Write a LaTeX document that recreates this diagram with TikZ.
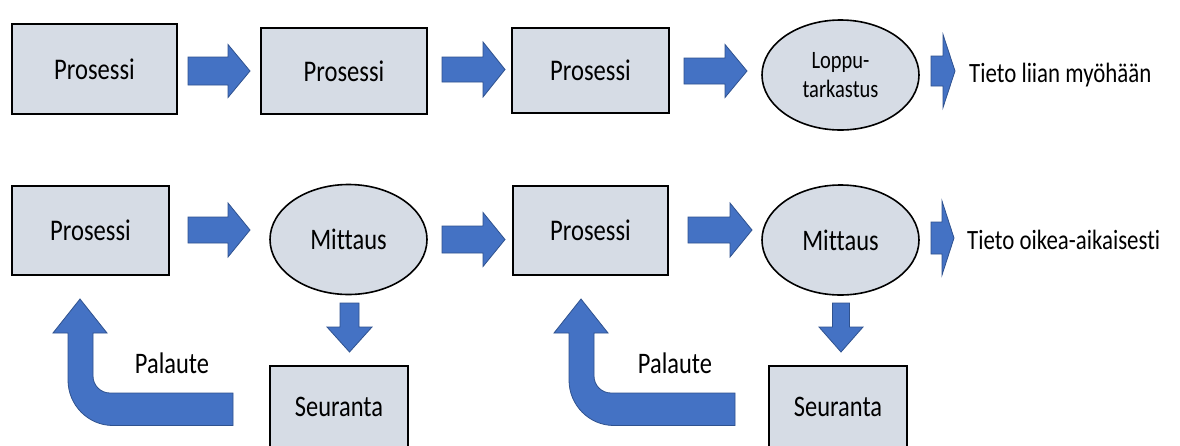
\documentclass[tikz,border=0pt]{standalone}
\usepackage{fontspec}
\setmainfont{Carlito}[FakeStretch=0.82, Ligatures=NoCommon]
\usetikzlibrary{shapes.geometric}
\definecolor{boxfill}{HTML}{D6DCE5}
\definecolor{arrfill}{HTML}{4472C4}
\definecolor{arrline}{HTML}{2F528F}
\tikzset{
  procbox/.style={draw=black, line width=2pt, fill=boxfill, inner sep=0pt,
    font=\fontsize{30}{32}\selectfont},
  ellbox/.style={ellipse, draw=black, line width=1.6pt, fill=boxfill, inner sep=0pt,
    minimum width=157pt, minimum height=110pt, font=\fontsize{29.8}{32}\selectfont},
  blockarrow/.style={fill=arrfill, draw=arrline, line width=0.8pt, line join=miter},
  lbl/.style={font=\fontsize{27.9}{30}\selectfont, inner sep=0pt, anchor=base west},
  plain/.style={font=\fontsize{29.8}{32}\selectfont, inner sep=0pt}
}
% right arrow: start x, head base x, tip x, centre y, shaft half, head half
\newcommand\rarrow[6]{\draw[blockarrow] (#1,#4-#5) -- (#2,#4-#5) -- (#2,#4-#6) -- (#3,#4) -- (#2,#4+#6) -- (#2,#4+#5) -- (#1,#4+#5) -- cycle;}
% down arrow: centre x, shaft top y, head base y, tip y, shaft half, head half
\newcommand\darrow[6]{\draw[blockarrow] (#1-#5,#2) -- (#1+#5,#2) -- (#1+#5,#3) -- (#1+#6,#3) -- (#1,#4) -- (#1-#6,#3) -- (#1-#5,#3) -- cycle;}
\newcommand\bentarrow[2]{\begin{scope}[xshift=#1pt]
  \draw[blockarrow] (#2,393) -- (110,393) .. controls (100.6,393) and (93,385.4) .. (93,376)
    -- (93,333) -- (107,333) -- (80,299) -- (53,333) -- (68,333) -- (68,380)
    .. controls (68,405) and (88,425.5) .. (113,425.5) -- (#2,425.5) -- cycle;
  \end{scope}}
\begin{document}
\begin{tikzpicture}[x=1pt,y=-1pt]
\useasboundingbox (0,0) rectangle (1180,445);
\clip (0,0) rectangle (1180,445);
\fill[white] (0,0) rectangle (1180,445);

% top row
\node[procbox, minimum width=165pt, minimum height=90pt] (p1) at (94.5,69) {Prosessi};
\node[procbox, minimum width=166pt, minimum height=86pt] (p2) at (344,71) {Prosessi};
\node[procbox, minimum width=157pt, minimum height=85pt] (p3) at (590.5,70.5) {Prosessi};
\node[ellbox, align=center, font=\fontsize{25}{29}\selectfont] (lt) at (840.5,75) {Loppu-\\tarkastus};
\node[lbl] (t1) at (969,82) {Tieto liian myöhään};

\rarrow{188}{228}{250}{71}{14}{26.5}
\rarrow{442}{483}{505}{69.5}{12.5}{27.5}
\rarrow{684}{725}{747}{71}{13}{26.5}
\rarrow{931}{943}{955}{71}{15}{36.5}

% bottom row
\node[procbox, minimum width=157pt, minimum height=89pt] (p4) at (90.5,230.5) {Prosessi};
\node[ellbox] (m1) at (348.5,239.5) {Mittaus};
\node[procbox, minimum width=155pt, minimum height=89pt] (p5) at (590.5,230.5) {Prosessi};
\node[ellbox] (m2) at (840.5,240) {Mittaus};
\node[lbl] (t2) at (967,249) {Tieto oikea-aikaisesti};

\rarrow{188}{228}{250}{230}{13}{27}
\rarrow{442}{483}{505}{239.5}{13.5}{27}
\rarrow{688}{730}{752}{230}{13}{27}
\rarrow{931}{942}{954}{238}{16}{37}

% feedback loops
\node[procbox, minimum width=138pt, minimum height=90pt] (s1) at (339,411) {};
\node[plain] at (339,407) {Seuranta};
\node[procbox, minimum width=138pt, minimum height=90pt] (s2) at (838,411) {};
\node[plain] at (838,407) {Seuranta};

\darrow{349.5}{303}{327}{352}{9.5}{22.5}
\darrow{841}{303}{327}{352}{8.5}{22}

\bentarrow{0}{233}
\bentarrow{501}{234}

\node[plain] (f1) at (172,363) {Palaute};
\node[plain] (f2) at (675,363) {Palaute};
\end{tikzpicture}
\end{document}
